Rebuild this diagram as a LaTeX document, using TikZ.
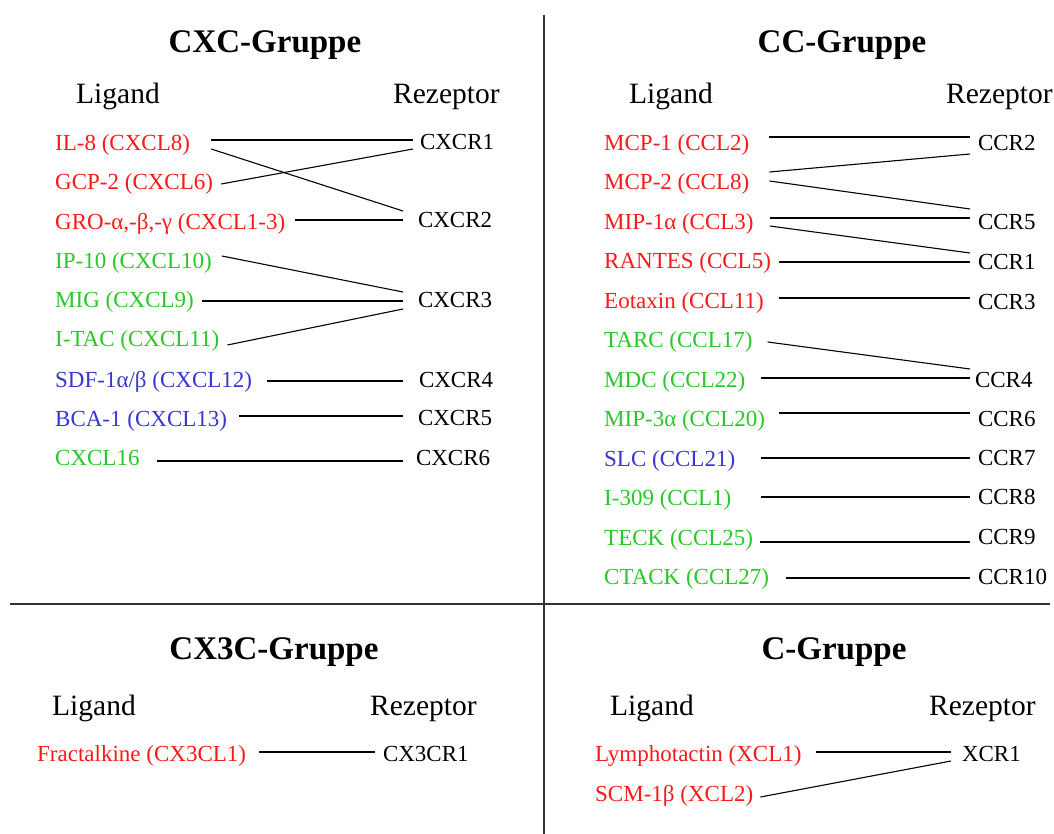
\documentclass[tikz,border=0pt]{standalone}
\usepackage{fontspec}
\setmainfont{Liberation Serif}
\usetikzlibrary{positioning}
\definecolor{ligred}{RGB}{250,25,25}
\definecolor{liggreen}{RGB}{40,200,40}
\definecolor{ligblue}{RGB}{55,55,210}

\begin{document}
\begin{tikzpicture}[x=1pt,y=-1pt,
    group/.style={anchor=base,inner sep=0pt,font=\fontsize{33}{36}\selectfont\bfseries},
    head/.style={anchor=base west,inner sep=0pt,font=\fontsize{29.5}{32}\selectfont},
    % ligand and receptor labels
    lig/.style={anchor=west,inner sep=0pt,text height=19pt,text depth=0pt,
      font=\fontsize{23}{26}\selectfont},
    rec/.style={lig,outer xsep=#1},
    rec/.default=8pt,
    link/.style={line width=1.1pt,black},
    divider/.style={line width=1.3pt,black!80}]
    \useasboundingbox (0,0) rectangle (1054,834);
    \draw[divider] (544,15) -- (544,834);
    \draw[divider] (10,604) -- (1050,604);

    % CXC
    \node[group] (cxc) at (265,53) {CXC-Gruppe};
    \node[head] (cxclig) at (76,104) {Ligand};
    \node[head] (cxcrez) at (393,104) {Rezeptor};
    \node[lig,ligred] (il8) at (55,141) {IL-8 (CXCL8)};
    \node[lig,ligred] (gcp2) at (55,180) {GCP-2 (CXCL6)};
    \node[lig,ligred] (gro) at (55,220) {GRO-α,-β,-γ (CXCL1-3)};
    \node[lig,liggreen] (ip10) at (55,259) {IP-10 (CXCL10)};
    \node[lig,liggreen] (mig) at (55,298) {MIG (CXCL9)};
    \node[lig,liggreen] (itac) at (55,337) {I-TAC (CXCL11)};
    \node[lig,ligblue] (sdf1) at (55,378) {SDF-1α/β (CXCL12)};
    \node[lig,ligblue] (bca1) at (55,417) {BCA-1 (CXCL13)};
    \node[lig,liggreen] (cxcl16) at (55,456) {CXCL16};
    \node[rec=7pt] (cxcr1) at (413,140) {CXCR1};
    \node[rec=15pt] (cxcr2) at (403,218) {CXCR2};
    \node[rec=15pt] (cxcr3) at (403,298) {CXCR3};
    \node[rec=16pt] (cxcr4) at (403,378) {CXCR4};
    \node[rec=15pt] (cxcr5) at (403,416) {CXCR5};
    \node[rec=13pt] (cxcr6) at (403,456) {CXCR6};
    \draw[link] ([xshift=21pt,yshift=1pt]il8.east) -- (cxcr1.west);
    \draw[link] ([xshift=21pt,yshift=-8pt]il8.east) -- ([yshift=7pt]cxcr2.west);
    \draw[link] ([xshift=8pt,yshift=-4pt]gcp2.east) -- ([yshift=-9pt]cxcr1.west);
    \draw[link] ([xshift=10pt]gro.east) -- ([yshift=-2pt]cxcr2.west);
    \draw[link] ([xshift=10pt,yshift=3pt]ip10.east) -- ([yshift=6pt]cxcr3.west);
    \draw[link] ([xshift=8pt,yshift=-3pt]mig.east) -- ([yshift=-3pt]cxcr3.west);
    \draw[link] ([xshift=8pt,yshift=-8pt]itac.east) -- ([yshift=-11pt]cxcr3.west);
    \draw[link] ([xshift=15pt,yshift=-3pt]sdf1.east) -- ([yshift=-3pt]cxcr4.west);
    \draw[link] ([xshift=12pt,yshift=1pt]bca1.east) -- (cxcr5.west);
    \draw[link] ([xshift=17pt,yshift=-5pt]cxcl16.east) -- ([yshift=-5pt]cxcr6.west);

    % CC
    \node[group] (cc) at (842,53) {CC-Gruppe};
    \node[head] (cclig) at (629,104) {Ligand};
    \node[head] (ccrez) at (946,104) {Rezeptor};
    \node[lig,ligred] (mcp1) at (604,141) {MCP-1 (CCL2)};
    \node[lig,ligred] (mcp2) at (604,180) {MCP-2 (CCL8)};
    \node[lig,ligred] (mip1a) at (604,220) {MIP-1α (CCL3)};
    \node[lig,ligred] (rantes) at (604,259) {RANTES (CCL5)};
    \node[lig,ligred] (eotaxin) at (604,299) {Eotaxin (CCL11)};
    \node[lig,liggreen] (tarc) at (604,338) {TARC (CCL17)};
    \node[lig,liggreen] (mdc) at (604,378) {MDC (CCL22)};
    \node[lig,liggreen] (mip3a) at (604,417) {MIP-3α (CCL20)};
    \node[lig,ligblue] (slc) at (604,457) {SLC (CCL21)};
    \node[lig,liggreen] (i309) at (604,496) {I-309 (CCL1)};
    \node[lig,liggreen] (teck) at (604,536) {TECK (CCL25)};
    \node[lig,liggreen] (ctack) at (604,575) {CTACK (CCL27)};
    \node[rec] (ccr2) at (970,141) {CCR2};
    \node[rec] (ccr5) at (970,220) {CCR5};
    \node[rec] (ccr1) at (970,260) {CCR1};
    \node[rec] (ccr3) at (970,300) {CCR3};
    \node[rec=5pt] (ccr4) at (970,378) {CCR4};
    \node[rec] (ccr6) at (970,417) {CCR6};
    \node[rec] (ccr7) at (970,456) {CCR7};
    \node[rec] (ccr8) at (970,495) {CCR8};
    \node[rec] (ccr9) at (970,535) {CCR9};
    \node[rec] (ccr10) at (970,575) {CCR10};
    \draw[link] ([xshift=20pt,yshift=4pt]mcp1.east) -- ([yshift=4pt]ccr2.west);
    \draw[link] ([xshift=20pt,yshift=8pt]mcp2.east) -- ([yshift=-13pt]ccr2.west);
    \draw[link] ([xshift=20pt,yshift=-1pt]mcp2.east) -- ([yshift=11pt]ccr5.west);
    \draw[link] ([xshift=16pt,yshift=2pt]mip1a.east) -- ([yshift=2pt]ccr5.west);
    \draw[link] ([xshift=16pt,yshift=-6pt]mip1a.east) -- ([yshift=7pt]ccr1.west);
    \draw[link] ([xshift=8pt,yshift=-3pt]rantes.east) -- ([yshift=-2pt]ccr1.west);
    \draw[link] ([xshift=15pt,yshift=1pt]eotaxin.east) -- ([yshift=2pt]ccr3.west);
    \draw[link] ([xshift=15pt,yshift=-4pt]tarc.east) -- ([yshift=9pt]ccr4.west);
    \draw[link] ([xshift=15pt]mdc.east) -- (ccr4.west);
    \draw[link] ([xshift=14pt,yshift=4pt]mip3a.east) -- ([yshift=4pt]ccr6.west);
    \draw[link] ([xshift=26pt,yshift=-1pt]slc.east) -- ([yshift=-2pt]ccr7.west);
    \draw[link] ([xshift=29pt,yshift=-1pt]i309.east) -- ([yshift=-2pt]ccr8.west);
    \draw[link] ([xshift=7pt,yshift=-6pt]teck.east) -- ([yshift=-7pt]ccr9.west);
    \draw[link] ([xshift=17pt,yshift=-3pt]ctack.east) -- ([yshift=-3pt]ccr10.west);

    % CX3C
    \node[group] (cx3c) at (274,659) {CX3C-Gruppe};
    \node[head] (cx3clig) at (52,715) {Ligand};
    \node[head] (cx3crez) at (370,715) {Rezeptor};
    \node[lig,ligred] (fkn) at (37,752) {Fractalkine (CX3CL1)};
    \node[rec] (cx3cr1) at (375,752) {CX3CR1};
    \draw[link] ([xshift=13pt]fkn.east) -- (cx3cr1.west);

    % C
    \node[group] (cgrp) at (834,659) {C-Gruppe};
    \node[head] (clig) at (610,715) {Ligand};
    \node[head] (crez) at (929,715) {Rezeptor};
    \node[lig,ligred] (lptn) at (595,752) {Lymphotactin (XCL1)};
    \node[lig,ligred] (scm1b) at (595,792) {SCM-1β (XCL2)};
    \node[rec=11pt] (xcr1) at (951,752) {XCR1};
    \draw[link] ([xshift=14pt]lptn.east) -- (xcr1.west);
    \draw[link] ([xshift=7pt,yshift=-5pt]scm1b.east) -- ([yshift=-9pt]xcr1.west);
\end{tikzpicture}
\end{document}
